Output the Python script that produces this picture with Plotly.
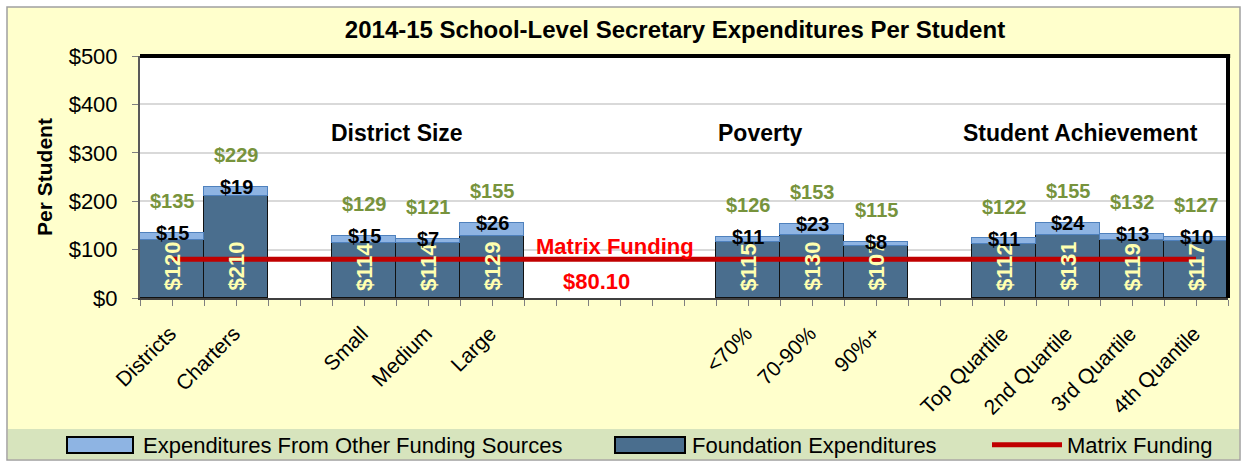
import plotly.graph_objects as go

# ---------------- data ----------------
categories = ["Districts", "Charters", "Small", "Medium", "Large",
              "&lt;70%", "70-90%", "90%+",
              "Top Quartile", "2nd Quartile", "3rd Quartile", "4th Quantile"]
positions = [0, 1, 3, 4, 5, 9, 10, 11, 13, 14, 15, 16]
foundation = [120, 210, 114, 114, 129, 115, 130, 107, 112, 131, 119, 117]
other = [15, 19, 15, 7, 26, 11, 23, 8, 11, 24, 13, 10]
totals = [135, 229, 129, 121, 155, 126, 153, 115, 122, 155, 132, 127]
matrix_funding = 80.10
groups = ["District Size", "Poverty", "Student Achievement"]
group_x = [3.52, 9.19, 14.19]
group_y = 341
y_ticks = [0, 100, 200, 300, 400, 500]

FONT = "Liberation Sans, Arial, sans-serif"
C_FOUND = "#4A6E8E"
C_OTHER = "#8EB4E3"
C_MATRIX = "#C00000"

# plot-area pixel geometry (for paper-coord decorations)
L, R, T, B, W, H = 140, 20, 56, 164, 1248, 462
PW, PH = W - L - R, H - T - B
def px(x):
    return (x - L) / PW
def py(y):
    return (H - B - y) / PH

fig = go.Figure()
fig.add_trace(go.Bar(
    x=positions, y=foundation, width=1, name="Foundation Expenditures",
    marker=dict(color=C_FOUND, line=dict(color="#111111", width=1.3)),
    showlegend=False, hoverinfo="skip"))
fig.add_trace(go.Bar(
    x=positions, y=other, width=1, name="Expenditures From Other Funding Sources",
    marker=dict(color=C_OTHER, line=dict(color="#4F81BD", width=1.5)),
    showlegend=False, hoverinfo="skip"))
fig.add_trace(go.Scatter(
    x=[positions[0], positions[-1]], y=[matrix_funding, matrix_funding],
    mode="lines", name="Matrix Funding",
    line=dict(color=C_MATRIX, width=5), legend="legend3", hoverinfo="skip"))
# legend entries for the stacked bars (swatches drawn as wide boxes below)
fig.add_trace(go.Scatter(x=[None], y=[None], mode="lines",
                         name="Expenditures From Other Funding Sources",
                         line=dict(color="rgba(0,0,0,0)", width=1),
                         legend="legend", hoverinfo="skip"))
fig.add_trace(go.Scatter(x=[None], y=[None], mode="lines",
                         name="Foundation Expenditures",
                         line=dict(color="rgba(0,0,0,0)", width=1),
                         legend="legend2", hoverinfo="skip"))

ann = []
for xp, v in zip(positions, foundation):
    ann.append(dict(x=xp, y=0, text=f"${v}", textangle=-90, showarrow=False,
                    yanchor="bottom", yshift=5,
                    font=dict(family=FONT, size=22, color="#FFFFB0", weight="bold")))
for xp, v, t in zip(positions, other, totals):
    ann.append(dict(x=xp, y=t, text=f"${v}", showarrow=False, yanchor="middle",
                    font=dict(family=FONT, size=20, color="black", weight="bold")))
for xp, t in zip(positions, totals):
    ann.append(dict(x=xp, y=t, text=f"${t}", showarrow=False, yanchor="middle",
                    yshift=32,
                    font=dict(family=FONT, size=20, color="#77933C", weight="bold")))
for g, gx in zip(groups, group_x):
    ann.append(dict(x=gx, y=group_y, text=g, showarrow=False,
                    font=dict(family=FONT, size=23, color="black", weight="bold")))
ann.append(dict(x=6.92, y=107, text="Matrix Funding", showarrow=False,
                font=dict(family=FONT, size=22, color="#FF0000", weight="bold")))
ann.append(dict(x=6.64, y=35, text=f"${matrix_funding:.2f}", showarrow=False,
                font=dict(family=FONT, size=22, color="#FF0000", weight="bold")))

shapes = [
    # outer chart area
    dict(type="rect", xref="paper", yref="paper", x0=px(7), x1=px(1240),
         y0=py(460), y1=py(7), fillcolor="#FFFFCC",
         line=dict(color="#A0A0A0", width=1.5), layer="below"),
    # legend band
    dict(type="rect", xref="paper", yref="paper", x0=px(8), x1=px(1239),
         y0=py(459), y1=py(429), fillcolor="#D7E4BD",
         line=dict(width=0), layer="below"),
    # plot area
    dict(type="rect", xref="paper", yref="paper", x0=0, x1=1, y0=0, y1=1,
         fillcolor="white", line=dict(width=0), layer="below"),
    # top and right frame
    dict(type="line", xref="paper", yref="paper", x0=0, x1=1.002, y0=1, y1=1,
         line=dict(color="black", width=4), layer="above"),
    dict(type="line", xref="paper", yref="paper", x0=1, x1=1, y0=0, y1=1,
         line=dict(color="black", width=4), layer="above"),
    # legend swatches for the bar series
    dict(type="rect", xref="paper", yref="paper", x0=px(67), x1=px(133),
         y0=py(453), y1=py(437), fillcolor=C_OTHER,
         line=dict(color="black", width=2), layer="above"),
    dict(type="rect", xref="paper", yref="paper", x0=px(615), x1=px(685),
         y0=py(453), y1=py(437), fillcolor=C_FOUND,
         line=dict(color="black", width=2), layer="above"),
]

leg_common = dict(orientation="h", xanchor="left", yanchor="middle",
                  y=py(445), bgcolor="rgba(0,0,0,0)", itemwidth=70,
                  font=dict(family=FONT, size=22, color="black"))

fig.update_layout(
    width=W, height=H,
    margin=dict(l=L, r=R, t=T, b=B, autoexpand=False),
    paper_bgcolor="white", plot_bgcolor="white",
    barmode="stack", bargap=0,
    font=dict(family=FONT, color="black"),
    title=dict(text="2014-15 School-Level Secretary Expenditures Per Student",
               x=675 / W, xref="container", xanchor="center",
               y=1 - 30 / H, yref="container", yanchor="middle",
               font=dict(family=FONT, size=24, color="black", weight="bold")),
    xaxis=dict(range=[-0.5, 16.5], tickmode="array", tickvals=positions,
               ticktext=categories, tickangle=-45,
               tickfont=dict(family=FONT, size=21, color="black"),
               ticks="outside", ticklen=6, tickcolor="#7F7F7F",
               ticklabelstandoff=7, ticklabelshift=-2,
               minor=dict(tickmode="linear", tick0=-0.5, dtick=0.5,
                          ticks="outside", ticklen=6, tickcolor="#7F7F7F"),
               showline=True, linecolor="#404040", linewidth=2,
               showgrid=False, zeroline=False, fixedrange=True,
               automargin=False),
    yaxis=dict(range=[0, 500], tickmode="array", tickvals=y_ticks,
               ticktext=[f"${v}" for v in y_ticks],
               tickfont=dict(family=FONT, size=22, color="black"),
               ticks="outside", ticklen=6, tickcolor="#7F7F7F",
               ticklabelstandoff=10,
               showline=True, linecolor="#595959", linewidth=2,
               showgrid=True, gridcolor="#D9D9D9", gridwidth=2,
               zeroline=False, fixedrange=True, automargin=False,
               title=dict(text="Per Student", standoff=10,
                          font=dict(family=FONT, size=21, color="black",
                                    weight="bold"))),
    legend=dict(x=px(143 - 80), **leg_common),
    legend2=dict(x=px(692 - 80), **leg_common),
    legend3=dict(x=px(1067 - 80), **leg_common),
    annotations=ann, shapes=shapes,
)

fig.write_html("out.html", config={"displayModeBar": False},
               post_script="document.body.style.margin='0';")
